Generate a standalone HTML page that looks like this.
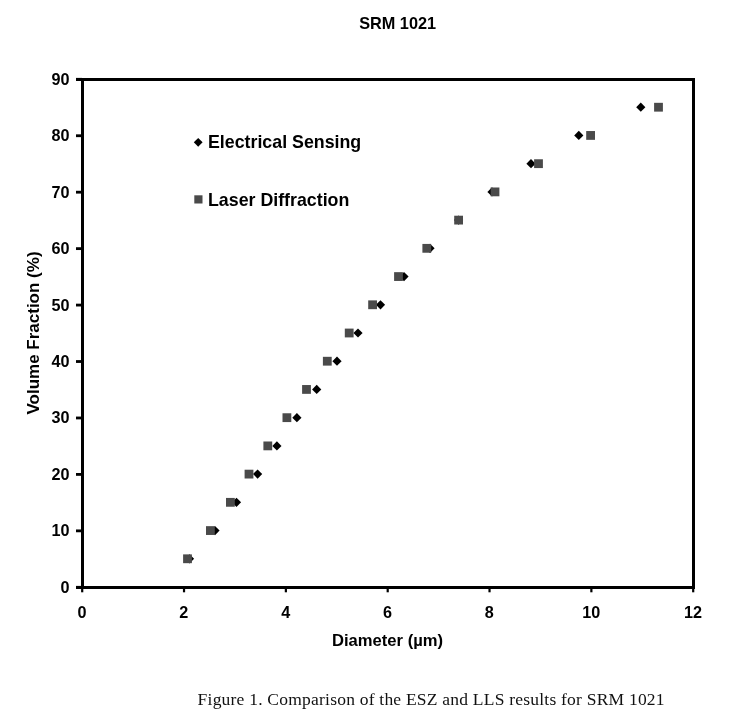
<!DOCTYPE html>
<html><head><meta charset="utf-8"><style>
html,body{margin:0;padding:0;background:#fff;width:735px;height:728px;overflow:hidden}
svg{display:block;will-change:transform}
text{font-family:"Liberation Sans",sans-serif;font-weight:bold;fill:#000}
.tk{font-size:16.2px}
.lg{font-size:17.8px}
.ti{font-size:16.3px}
.xt{font-size:16.6px}
.yt{font-size:17px}
.cap{font-family:"Liberation Serif",serif;font-weight:normal;font-size:17.5px;letter-spacing:0.22px;fill:#111}
</style></head><body>
<svg width="735" height="728" viewBox="0 0 735 728">
<rect x="81" y="78" width="3" height="511" fill="#000"/>
<rect x="76" y="78" width="619" height="3" fill="#000"/>
<rect x="692" y="78" width="3" height="511" fill="#000"/>
<rect x="76" y="586" width="619" height="3" fill="#000"/>
<rect x="76" y="585.90" width="6" height="2.8" fill="#000"/>
<text x="69.5" y="592.80" text-anchor="end" class="tk">0</text>
<rect x="76" y="529.46" width="6" height="2.8" fill="#000"/>
<text x="69.5" y="536.36" text-anchor="end" class="tk">10</text>
<rect x="76" y="473.01" width="6" height="2.8" fill="#000"/>
<text x="69.5" y="479.91" text-anchor="end" class="tk">20</text>
<rect x="76" y="416.57" width="6" height="2.8" fill="#000"/>
<text x="69.5" y="423.47" text-anchor="end" class="tk">30</text>
<rect x="76" y="360.12" width="6" height="2.8" fill="#000"/>
<text x="69.5" y="367.02" text-anchor="end" class="tk">40</text>
<rect x="76" y="303.68" width="6" height="2.8" fill="#000"/>
<text x="69.5" y="310.58" text-anchor="end" class="tk">50</text>
<rect x="76" y="247.23" width="6" height="2.8" fill="#000"/>
<text x="69.5" y="254.13" text-anchor="end" class="tk">60</text>
<rect x="76" y="190.79" width="6" height="2.8" fill="#000"/>
<text x="69.5" y="197.69" text-anchor="end" class="tk">70</text>
<rect x="76" y="134.34" width="6" height="2.8" fill="#000"/>
<text x="69.5" y="141.24" text-anchor="end" class="tk">80</text>
<rect x="76" y="77.90" width="6" height="2.8" fill="#000"/>
<text x="69.5" y="84.80" text-anchor="end" class="tk">90</text>
<rect x="81.10" y="586" width="2.2" height="6.3" fill="#000"/>
<text x="82.00" y="618" text-anchor="middle" class="tk">0</text>
<rect x="182.93" y="586" width="2.2" height="6.3" fill="#000"/>
<text x="183.83" y="618" text-anchor="middle" class="tk">2</text>
<rect x="284.77" y="586" width="2.2" height="6.3" fill="#000"/>
<text x="285.67" y="618" text-anchor="middle" class="tk">4</text>
<rect x="386.60" y="586" width="2.2" height="6.3" fill="#000"/>
<text x="387.50" y="618" text-anchor="middle" class="tk">6</text>
<rect x="488.43" y="586" width="2.2" height="6.3" fill="#000"/>
<text x="489.33" y="618" text-anchor="middle" class="tk">8</text>
<rect x="590.27" y="586" width="2.2" height="6.3" fill="#000"/>
<text x="591.17" y="618" text-anchor="middle" class="tk">10</text>
<rect x="692.10" y="586" width="2.2" height="6.3" fill="#000"/>
<text x="693.00" y="618" text-anchor="middle" class="tk">12</text>
<path d="M184.90 558.78L189.50 554.18L194.10 558.78L189.50 563.38Z" fill="#000"/>
<path d="M210.40 530.56L215.00 525.96L219.60 530.56L215.00 535.16Z" fill="#000"/>
<path d="M231.90 502.33L236.50 497.73L241.10 502.33L236.50 506.93Z" fill="#000"/>
<path d="M253.00 474.11L257.60 469.51L262.20 474.11L257.60 478.71Z" fill="#000"/>
<path d="M272.30 445.89L276.90 441.29L281.50 445.89L276.90 450.49Z" fill="#000"/>
<path d="M292.30 417.67L296.90 413.07L301.50 417.67L296.90 422.27Z" fill="#000"/>
<path d="M312.10 389.44L316.70 384.84L321.30 389.44L316.70 394.04Z" fill="#000"/>
<path d="M332.40 361.22L337.00 356.62L341.60 361.22L337.00 365.82Z" fill="#000"/>
<path d="M353.40 333.00L358.00 328.40L362.60 333.00L358.00 337.60Z" fill="#000"/>
<path d="M375.90 304.78L380.50 300.18L385.10 304.78L380.50 309.38Z" fill="#000"/>
<path d="M399.40 276.56L404.00 271.96L408.60 276.56L404.00 281.16Z" fill="#000"/>
<path d="M425.40 248.33L430.00 243.73L434.60 248.33L430.00 252.93Z" fill="#000"/>
<path d="M454.00 220.11L458.60 215.51L463.20 220.11L458.60 224.71Z" fill="#000"/>
<path d="M487.40 191.89L492.00 187.29L496.60 191.89L492.00 196.49Z" fill="#000"/>
<path d="M526.40 163.67L531.00 159.07L535.60 163.67L531.00 168.27Z" fill="#000"/>
<path d="M574.20 135.44L578.80 130.84L583.40 135.44L578.80 140.04Z" fill="#000"/>
<path d="M636.20 107.22L640.80 102.62L645.40 107.22L640.80 111.82Z" fill="#000"/>
<rect x="183.10" y="554.38" width="8.8" height="8.8" fill="#4a4a4a"/>
<rect x="206.00" y="526.16" width="8.8" height="8.8" fill="#4a4a4a"/>
<rect x="226.00" y="497.93" width="8.8" height="8.8" fill="#4a4a4a"/>
<rect x="244.60" y="469.71" width="8.8" height="8.8" fill="#4a4a4a"/>
<rect x="263.40" y="441.49" width="8.8" height="8.8" fill="#4a4a4a"/>
<rect x="282.50" y="413.27" width="8.8" height="8.8" fill="#4a4a4a"/>
<rect x="302.10" y="385.04" width="8.8" height="8.8" fill="#4a4a4a"/>
<rect x="322.90" y="356.82" width="8.8" height="8.8" fill="#4a4a4a"/>
<rect x="344.80" y="328.60" width="8.8" height="8.8" fill="#4a4a4a"/>
<rect x="368.20" y="300.38" width="8.8" height="8.8" fill="#4a4a4a"/>
<rect x="394.10" y="272.16" width="8.8" height="8.8" fill="#4a4a4a"/>
<rect x="422.40" y="243.93" width="8.8" height="8.8" fill="#4a4a4a"/>
<rect x="454.20" y="215.71" width="8.8" height="8.8" fill="#4a4a4a"/>
<rect x="490.60" y="187.49" width="8.8" height="8.8" fill="#4a4a4a"/>
<rect x="534.10" y="159.27" width="8.8" height="8.8" fill="#4a4a4a"/>
<rect x="586.20" y="131.04" width="8.8" height="8.8" fill="#4a4a4a"/>
<rect x="654.10" y="102.82" width="8.8" height="8.8" fill="#4a4a4a"/>
<path d="M193.8 142.3L198.2 137.9L202.6 142.3L198.2 146.7Z" fill="#000"/>
<rect x="194.3" y="195.3" width="8.2" height="8.2" fill="#4a4a4a"/>
<text x="208" y="148" class="lg">Electrical Sensing</text>
<text x="208" y="205.8" class="lg">Laser Diffraction</text>
<text x="397.6" y="29" text-anchor="middle" class="ti">SRM 1021</text>
<text x="387.5" y="646.3" text-anchor="middle" class="xt">Diameter (µm)</text>
<text transform="translate(39 333) rotate(-90)" text-anchor="middle" class="yt">Volume Fraction (%)</text>
<text x="197.6" y="704.5" class="cap">Figure 1. Comparison of the ESZ and LLS results for SRM 1021</text>
</svg>
</body></html>
